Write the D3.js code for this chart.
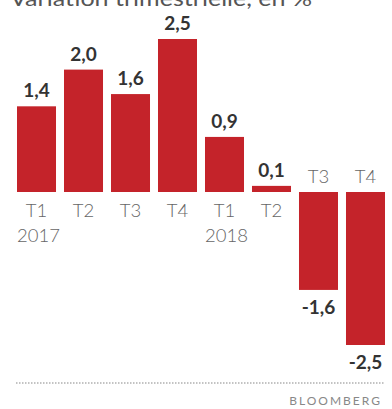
<!DOCTYPE html>
<html><head><meta charset="utf-8">
<script src="https://cdn.jsdelivr.net/npm/d3@7"></script>
<style>
html,body{margin:0;padding:0;background:#fff;}
svg{display:block;}
</style></head>
<body>
<script>
const quarters = ["T1","T2","T3","T4","T1","T2","T3","T4"];
const years = ["2017","","","","2018","","",""];
const values = [1.4, 2.0, 1.6, 2.5, 0.9, 0.1, -1.6, -2.5];
const valueLabels = ["1,4","2,0","1,6","2,5","0,9","0,1","-1,6","-2,5"];
const title = "Variation trimestrielle, en %";
const source = "BLOOMBERG";

const W = 392, H = 409;
const svg = d3.select("body").append("svg").attr("width", W).attr("height", H);
const font = "Lato, 'Open Sans', sans-serif";
const idx = d3.range(values.length);

const x = d3.scaleBand().domain(idx).range([17, 385]).paddingInner(0.17).paddingOuter(0);
const y = d3.scaleLinear().domain([-2.5, 2.5]).range([345, 39]);

svg.append("text").attr("x", 10).attr("y", 6)
  .attr("font-family", font).attr("font-size", 22).attr("fill", "#555")
  .attr("textLength", 302).attr("lengthAdjust", "spacingAndGlyphs")
  .text(title);

svg.selectAll("rect.bar").data(idx).join("rect")
  .attr("class", "bar")
  .attr("x", i => x(i))
  .attr("width", x.bandwidth())
  .attr("y", i => Math.min(y(values[i]), y(0)))
  .attr("height", i => Math.max(Math.abs(y(values[i]) - y(0)), 3))
  .attr("fill", "#c4232a");

// value labels
svg.selectAll("text.val").data(idx).join("text")
  .attr("class", "val")
  .attr("x", i => x(i) + x.bandwidth() / 2)
  .attr("y", i => values[i] >= 0 ? y(values[i]) - 9 : y(values[i]) + 24)
  .attr("text-anchor", "middle")
  .attr("font-family", font).attr("font-weight", 700).attr("font-size", 19)
  .attr("fill", "#333")
  .text(i => valueLabels[i]);

// quarter labels
svg.selectAll("text.q").data(idx).join("text")
  .attr("class", "q")
  .attr("x", i => x(i) + x.bandwidth() / 2)
  .attr("y", i => values[i] >= 0 ? y(0) + 25 : y(0) - 9)
  .attr("text-anchor", "middle")
  .attr("font-family", font).attr("font-weight", 300).attr("font-size", 18.5)
  .attr("fill", "#666")
  .text(i => quarters[i]);

svg.selectAll("text.yr").data(idx.filter(i => years[i])).join("text")
  .attr("class", "yr")
  .attr("x", i => x(i) + x.bandwidth() / 2 + 2)
  .attr("y", y(0) + 50)
  .attr("text-anchor", "middle")
  .attr("font-family", font).attr("font-weight", 300).attr("font-size", 18.5)
  .attr("fill", "#666")
  .text(i => years[i]);

svg.append("line").attr("x1", 16).attr("x2", 384).attr("y1", 383).attr("y2", 383)
  .attr("stroke", "#888").attr("stroke-width", 1.2).attr("stroke-dasharray", "1.5,1.5");

svg.append("text").attr("x", 382).attr("y", 405)
  .attr("text-anchor", "end")
  .attr("font-family", font).attr("font-size", 12).attr("letter-spacing", 2)
  .attr("fill", "#888")
  .text(source);
</script>
</body></html>
